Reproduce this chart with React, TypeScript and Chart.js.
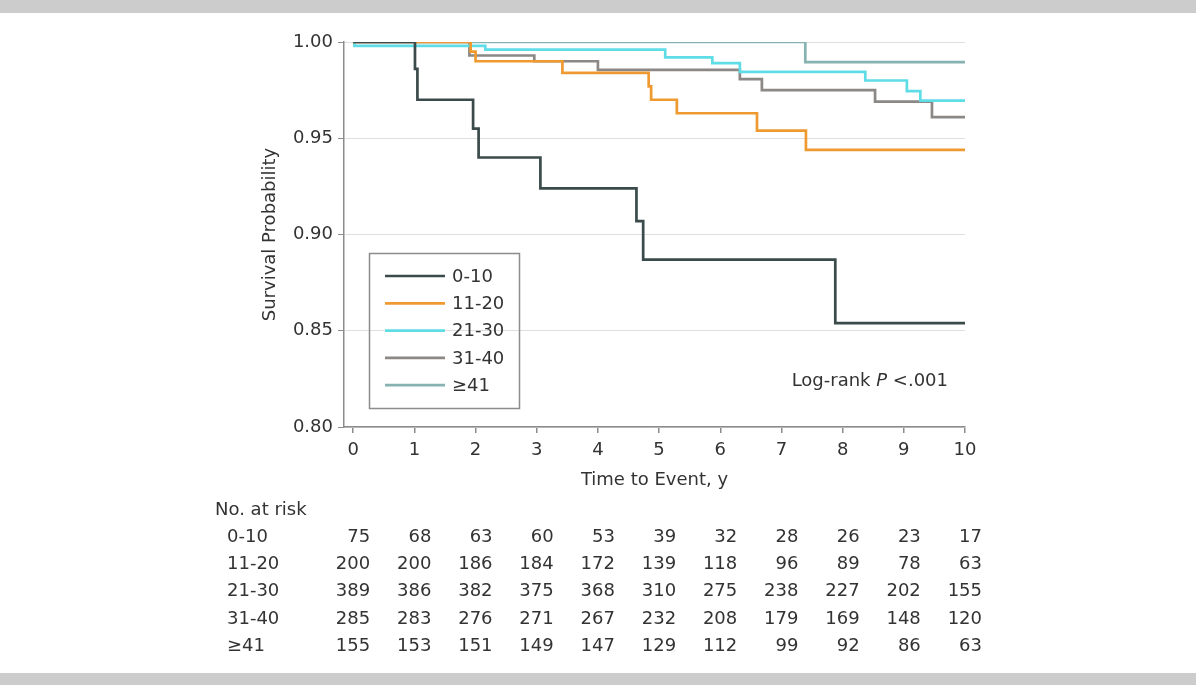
import React, { useEffect, useRef } from "react";
import { Chart, registerables } from "chart.js";

Chart.register(...registerables);

// ---- data ----
const groupLabels = ["0-10", "11-20", "21-30", "31-40", "≥41"];
const groupColors = ["#3b4a4b", "#ee9a30", "#5fdde6", "#8b8885", "#86b3b2"];

const times0_10 = [0, 1.01, 1.05, 1.96, 2.05, 3.06, 4.63, 4.74, 7.88, 10];
const surv0_10 = [1.0, 0.986, 0.97, 0.955, 0.94, 0.924, 0.907, 0.887, 0.854, 0.854];

const times11_20 = [0, 1.92, 2.0, 3.42, 4.83, 4.87, 5.29, 6.6, 7.4, 10];
const surv11_20 = [1.0, 0.995, 0.99, 0.984, 0.977, 0.97, 0.963, 0.954, 0.944, 0.944];

const times21_30 = [0, 0.02, 2.16, 5.1, 5.87, 6.32, 8.37, 9.05, 9.27, 10];
const surv21_30 = [1.0, 0.998, 0.996, 0.992, 0.989, 0.9845, 0.98, 0.9745, 0.9695, 0.9695];

const times31_40 = [0, 1.9, 2.96, 4.0, 6.32, 6.68, 8.53, 9.46, 10];
const surv31_40 = [1.0, 0.993, 0.99, 0.9855, 0.9807, 0.975, 0.969, 0.961, 0.961];

const times41 = [0, 7.39, 10];
const surv41 = [1.0, 0.9895, 0.9895];

const riskTimes = [0, 1, 2, 3, 4, 5, 6, 7, 8, 9, 10];
const risk0_10 = [75, 68, 63, 60, 53, 39, 32, 28, 26, 23, 17];
const risk11_20 = [200, 200, 186, 184, 172, 139, 118, 96, 89, 78, 63];
const risk21_30 = [389, 386, 382, 375, 368, 310, 275, 238, 227, 202, 155];
const risk31_40 = [285, 283, 276, 271, 267, 232, 208, 179, 169, 148, 120];
const risk41 = [155, 153, 151, 149, 147, 129, 112, 99, 92, 86, 63];

const xTicks = [0, 1, 2, 3, 4, 5, 6, 7, 8, 9, 10];
const yTicks = [0.8, 0.85, 0.9, 0.95, 1.0];

const xTitle = "Time to Event, y";
const yTitle = "Survival Probability";
const riskHeader = "No. at risk";

const FONT = "'DejaVu Sans', sans-serif";
const TEXT = "#333333";
const AXIS = "#8c8c8c";

const allTimes = [times0_10, times11_20, times21_30, times31_40, times41];
const allSurv = [surv0_10, surv11_20, surv21_30, surv31_40, surv41];
const allRisk = [risk0_10, risk11_20, risk21_30, risk31_40, risk41];

const decorPlugin = {
  id: "decor",
  beforeDraw(chart: any) {
    const ctx = chart.ctx;
    ctx.save();
    ctx.fillStyle = "#ffffff";
    ctx.fillRect(0, 0, chart.width, chart.height);
    ctx.fillStyle = "#cccccc";
    ctx.fillRect(0, 0, chart.width, 13);
    ctx.fillRect(0, 673, chart.width, chart.height - 673);
    ctx.restore();
  },
  afterDraw(chart: any) {
    const ctx = chart.ctx;
    const xs = chart.scales.x;
    ctx.save();

    // legend
    ctx.strokeStyle = AXIS;
    ctx.lineWidth = 1.5;
    ctx.strokeRect(369.5, 253.5, 150, 155);
    ctx.font = `18px ${FONT}`;
    ctx.textBaseline = "middle";
    ctx.textAlign = "left";
    groupLabels.forEach((lab, i) => {
      const y = 276 + i * 27.3;
      ctx.strokeStyle = groupColors[i];
      ctx.lineWidth = 2.7;
      ctx.beginPath();
      ctx.moveTo(385, y);
      ctx.lineTo(445, y);
      ctx.stroke();
      ctx.fillStyle = TEXT;
      ctx.fillText(lab, 452, y + 1);
    });

    // log-rank
    const parts: [string, string][] = [
      ["Log-rank ", `18px ${FONT}`],
      ["P", `italic 18px ${FONT}`],
      [" <.001", `18px ${FONT}`],
    ];
    let total = 0;
    parts.forEach(([t, f]) => {
      ctx.font = f;
      total += ctx.measureText(t).width;
    });
    let cx = 948 - total;
    parts.forEach(([t, f]) => {
      ctx.font = f;
      ctx.fillStyle = TEXT;
      ctx.fillText(t, cx, 381);
      cx += ctx.measureText(t).width;
    });

    // risk table
    ctx.font = `18px ${FONT}`;
    ctx.fillStyle = TEXT;
    ctx.textAlign = "left";
    ctx.fillText(riskHeader, 215, 510);
    allRisk.forEach((row, i) => {
      const y = 537 + i * 27.4;
      ctx.textAlign = "left";
      ctx.fillText(groupLabels[i], 227, y);
      ctx.textAlign = "right";
      row.forEach((n, j) => {
        const px = xs.getPixelForValue(riskTimes[j]);
        ctx.fillText(String(n), px + 17, y);
      });
    });
    ctx.restore();
  },
};

export default function App() {
  const ref = useRef<HTMLCanvasElement>(null);
  useEffect(() => {
    if (!ref.current) return;
    const datasets = groupLabels.map((lab, i) => ({
      label: lab,
      data: allTimes[i].map((t, k) => ({ x: t, y: allSurv[i][k] })),
      borderColor: groupColors[i],
      backgroundColor: groupColors[i],
      borderWidth: 2.7,
      pointRadius: 0,
      stepped: "before" as const,
      fill: false,
      borderJoinStyle: "miter" as const,
    }));
    const chart = new Chart(ref.current, {
      type: "line",
      data: { datasets },
      options: {
        animation: false,
        responsive: false,
        devicePixelRatio: 1,
        layout: { padding: { left: 255, right: 231, top: 42, bottom: 194 } },
        plugins: { legend: { display: false }, tooltip: { enabled: false } },
        scales: {
          x: {
            type: "linear",
            min: -0.15,
            max: 10,
            afterBuildTicks: (s: any) => {
              s.ticks = xTicks.map((v) => ({ value: v }));
            },
            afterFit: (s: any) => {
              s.height = 64;
            },
            grid: { drawOnChartArea: false, tickLength: 6, tickColor: AXIS, lineWidth: 1.5 },
            border: { color: AXIS, width: 1.5 },
            ticks: {
              color: TEXT,
              font: { family: FONT, size: 18 },
              padding: 7,
              maxRotation: 0,
              callback: (v: any) => String(v),
            },
            title: {
              display: true,
              text: xTitle,
              color: TEXT,
              font: { family: FONT, size: 18 },
              padding: { top: 0, bottom: 0 },
            },
          },
          y: {
            type: "linear",
            min: 0.8,
            max: 1.0,
            afterBuildTicks: (s: any) => {
              s.ticks = yTicks.map((v) => ({ value: v }));
            },
            afterFit: (s: any) => {
              s.width = 89;
            },
            grid: { color: "#dedede", lineWidth: 1, tickLength: 6, tickColor: AXIS },
            border: { color: AXIS, width: 1.5 },
            ticks: {
              color: TEXT,
              font: { family: FONT, size: 18 },
              padding: 5,
              callback: (v: any) => Number(v).toFixed(2),
            },
            title: {
              display: true,
              text: yTitle,
              color: TEXT,
              font: { family: FONT, size: 18 },
              padding: { top: 5, bottom: 0 },
            },
          },
        },
      },
      plugins: [decorPlugin],
    });
    return () => chart.destroy();
  }, []);
  return (
    <div style={{ position: "absolute", left: 0, top: 0, width: 1196, height: 685, background: "#fff" }}>
      <canvas ref={ref} width={1196} height={685} style={{ display: "block" }} />
    </div>
  );
}
